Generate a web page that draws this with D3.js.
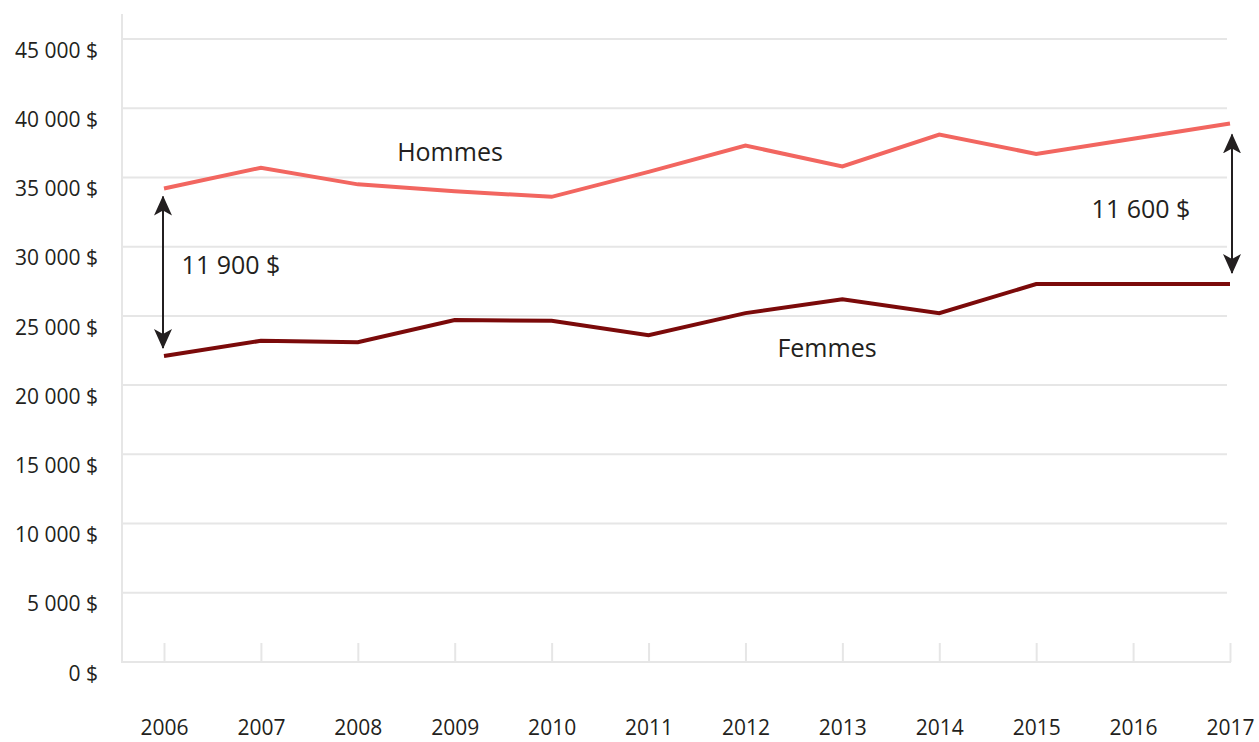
<!DOCTYPE html>
<html>
<head>
<meta charset="utf-8">
<script src="https://cdn.jsdelivr.net/npm/d3@7"></script>
<style>
  body { margin: 0; background: #fff; }
  text { font-family: "Open Sans", sans-serif; fill: #231f20; }
</style>
</head>
<body>
<svg id="chart" width="1259" height="742"></svg>
<script>
// data
var years = [2006, 2007, 2008, 2009, 2010, 2011, 2012, 2013, 2014, 2015, 2016, 2017];
var hommes = [34200, 35700, 34500, 34000, 33600, 35400, 37300, 35800, 38100, 36700, 37800, 38900];
var femmes = [22100, 23200, 23100, 24700, 24650, 23600, 25200, 26200, 25200, 27300, 27300, 27300];
var yTicks = [0, 5000, 10000, 15000, 20000, 25000, 30000, 35000, 40000, 45000];
var gapYears = [2006, 2017];
var gapLabels = ["11 900 $", "11 600 $"];

var svg = d3.select("#chart");

var plotLeft = 122, plotRight = 1227, plotTop = 39, plotBottom = 662;

var x = d3.scalePoint()
    .domain(years)
    .range([164, 1230]);
var y = d3.scaleLinear()
    .domain([0, 45000])
    .range([plotBottom, plotTop]);

var fmt = function(v) { return d3.format(",")(v).replace(/,/g, " ") + " $"; };

//gridlines
svg.append("g").selectAll("line")
  .data(yTicks.filter(function(d) { return d > 0; }))
  .enter().append("line")
  .attr("x1", plotLeft).attr("x2", plotRight)
  .attr("y1", function(d) { return y(d); })
  .attr("y2", function(d) { return y(d); })
  .attr("stroke", "#e6e6e6")
  .attr("stroke-width", 2);

//left axis line + bottom axis
svg.append("line")
  .attr("x1", plotLeft).attr("x2", plotLeft)
  .attr("y1", 14).attr("y2", plotBottom)
  .attr("stroke", "#e6e6e6").attr("stroke-width", 2);

var xAxis = svg.append("g")
  .attr("transform", "translate(0," + plotBottom + ")")
  .call(d3.axisBottom(x).tickSize(-19).tickPadding(58).tickSizeOuter(0));
xAxis.select(".domain").remove();
xAxis.selectAll(".tick line").attr("stroke", "#e6e6e6").attr("stroke-width", 2);
xAxis.selectAll(".tick text")
  .style("font-family", "'Open Sans', sans-serif")
  .style("font-size", "21px")
  .attr("fill", "#231f20");
svg.append("line")
  .attr("x1", plotLeft - 1).attr("x2", x(2017) + 1)
  .attr("y1", plotBottom).attr("y2", plotBottom)
  .attr("stroke", "#e6e6e6").attr("stroke-width", 2);

//y labels
svg.append("g").selectAll("text")
  .data(yTicks)
  .enter().append("text")
  .attr("x", 98)
  .attr("y", function(d) { return y(d) + 13; })
  .attr("text-anchor", "end")
  .attr("dominant-baseline", "middle")
  .style("font-size", "21px")
  .text(fmt);

//lines
var line = d3.line()
  .x(function(d, i) { return x(years[i]); })
  .y(function(d) { return y(d); });

svg.append("path")
  .datum(hommes)
  .attr("d", line)
  .attr("fill", "none")
  .attr("stroke", "#f26660")
  .attr("stroke-width", 4);

svg.append("path")
  .datum(femmes)
  .attr("d", line)
  .attr("fill", "none")
  .attr("stroke", "#7b0a0a")
  .attr("stroke-width", 4);

//series labels
svg.append("text")
  .attr("x", 450).attr("y", 154)
  .attr("text-anchor", "middle").attr("dominant-baseline", "middle")
  .style("font-size", "25px")
  .text("Hommes");
svg.append("text")
  .attr("x", 827).attr("y", 350)
  .attr("text-anchor", "middle").attr("dominant-baseline", "middle")
  .style("font-size", "25px")
  .text("Femmes");

//gap arrows
var defs = svg.append("defs");
defs.append("marker")
  .attr("id", "head")
  .attr("viewBox", "0 0 20 18")
  .attr("refX", 19).attr("refY", 9)
  .attr("markerWidth", 20).attr("markerHeight", 18)
  .attr("markerUnits", "userSpaceOnUse")
  .attr("orient", "auto-start-reverse")
  .append("path")
  .attr("d", "M0,0 L20,9 L0,18 L5,9 Z")
  .attr("fill", "#231f20");

gapYears.forEach(function(yr, k) {
  var i = years.indexOf(yr);
  var ax = x(yr) + (k === 0 ? -1 : 2);
  var off = k === 0 ? 8 : 11;
  svg.append("line")
    .attr("x1", ax).attr("x2", ax)
    .attr("y1", y(hommes[i]) + off)
    .attr("y2", y(femmes[i]) - off)
    .attr("stroke", "#231f20")
    .attr("stroke-width", 2)
    .attr("marker-start", "url(#head)")
    .attr("marker-end", "url(#head)");
});

svg.append("text")
  .attr("x", 231).attr("y", 267)
  .attr("text-anchor", "middle").attr("dominant-baseline", "middle")
  .style("font-size", "25px")
  .text(gapLabels[0]);
svg.append("text")
  .attr("x", 1141).attr("y", 211)
  .attr("text-anchor", "middle").attr("dominant-baseline", "middle")
  .style("font-size", "25px")
  .text(gapLabels[1]);
</script>
</body>
</html>
